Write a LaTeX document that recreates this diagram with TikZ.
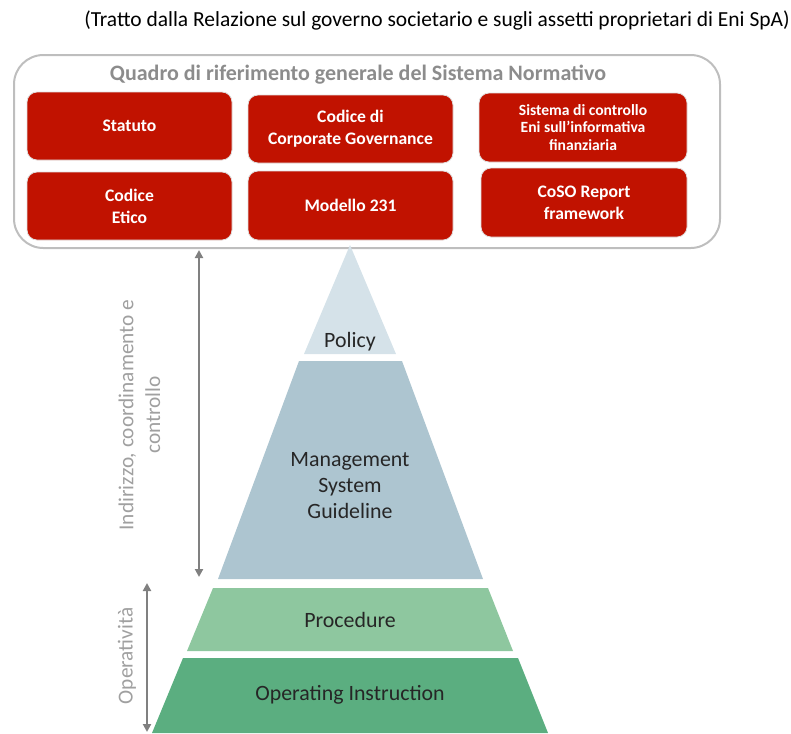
\documentclass[tikz,border=0pt]{standalone}
\usepackage{fontspec}
\setmainfont{Carlito}
\usetikzlibrary{arrows.meta}
\definecolor{enired}{RGB}{193,18,0}
\definecolor{framegray}{RGB}{190,190,190}
\definecolor{titlegray}{RGB}{140,140,140}
\definecolor{sidegray}{RGB}{160,160,160}
\definecolor{arrgray}{RGB}{128,128,128}
\definecolor{policyc}{RGB}{213,226,233}
\definecolor{mgmtc}{RGB}{173,197,208}
\definecolor{procc}{RGB}{142,199,159}
\definecolor{opc}{RGB}{91,174,128}
\definecolor{pyrtext}{RGB}{38,38,38}
\tikzset{
  redbox/.style={draw=black!12, line width=0.6pt, fill=enired, rounded corners=7.5pt, text=white,
    font=\fontsize{13.2pt}{16.5pt}\selectfont\bfseries, align=center, inner sep=0pt},
  pyrlabel/.style={text=pyrtext, font=\fontsize{16.4pt}{19.5pt}\selectfont, align=center, inner sep=0pt},
  sidelabel/.style={text=sidegray, font=\fontsize{16pt}{20pt}\selectfont, align=center, rotate=90, inner sep=0pt},
  varrow/.style={draw=arrgray, line width=1.5pt, {Triangle[length=6pt,width=6pt]}-{Triangle[length=6pt,width=6pt]}}
}
\begin{document}
\begin{tikzpicture}[x=0.75pt,y=-0.75pt]
\useasboundingbox (0,0) rectangle (791,733);
% caption
\node[anchor=east, inner sep=0pt, font=\fontsize{16.1pt}{18pt}\selectfont] (cap) at (790,20)
  {(Tratto dalla Relazione sul governo societario e sugli assetti proprietari di Eni SpA)};
% outer frame
\draw[framegray, line width=1.5pt, rounded corners=22pt] (14,55) rectangle (720,248);
\node[text=titlegray, font=\fontsize{16.5pt}{18pt}\selectfont\bfseries, inner sep=0pt] (title) at (358,75)
  {Quadro di riferimento generale del Sistema Normativo};
% red boxes
\node[redbox, minimum width=153.75pt, minimum height=51pt] (statuto) at (129.5,126) {Statuto};
\node[redbox, minimum width=153.75pt, minimum height=51pt] (cg) at (350.5,129) {Codice di\\Corporate Governance};
\node[redbox, minimum width=156pt, minimum height=51.75pt, font=\fontsize{11.7pt}{13.2pt}\selectfont\bfseries] (sci) at (583,127.5) {Sistema di controllo\\Eni sull'informativa\\finanziaria};
\node[redbox, minimum width=153.75pt, minimum height=51pt] (etico) at (129.5,206) {Codice\\Etico};
\node[redbox, minimum width=153.75pt, minimum height=51.75pt] (mod) at (350.5,205.5) {Modello 231};
\node[redbox, minimum width=154.5pt, minimum height=51.75pt] (coso) at (584,202.5) {CoSO Report\\framework};
% pyramid
\fill[policyc] (350,245) -- (396,354) -- (304,354) -- cycle;
\fill[mgmtc] (299,361) -- (402,361) -- (483,579) -- (218,579) -- cycle;
\fill[procc] (213,588) -- (488,588) -- (513,651) -- (187,651) -- cycle;
\fill[opc] (183,658) -- (518,658) -- (548,733) -- (152,733) -- cycle;
\node[pyrlabel] (policy) at (350,342) {Policy};
\node[pyrlabel] (msg) at (350,486) {Management\\System\\Guideline};
\node[pyrlabel] (proc) at (350,620) {Procedure};
\node[pyrlabel] (opi) at (350,695) {Operating Instruction};
% side arrows
\coordinate (a1t) at (199,250);
\coordinate (a1b) at (199,577);
\coordinate (a2t) at (147,583);
\coordinate (a2b) at (147,732);
\draw[varrow] (a1t) -- (a1b);
\draw[varrow] (a2t) -- (a2b);
\node[sidelabel] (ind) at (139.5,415) {Indirizzo, coordinamento e\\controllo};
\node[sidelabel] (oper) at (127,656) {Operatività};
\end{tikzpicture}
\end{document}
